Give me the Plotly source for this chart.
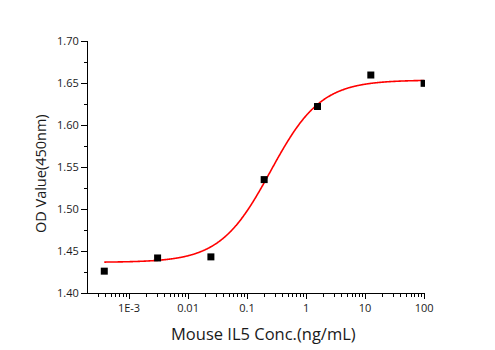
import numpy as np
import plotly.graph_objects as go

conc = [0.000381, 0.00305, 0.0244, 0.195, 1.5625, 12.5, 100]
od = [1.426, 1.4417, 1.443, 1.535, 1.622, 1.6595, 1.6496]

# 4PL fit parameters
fit_bottom = 1.4365
fit_top = 1.6535
fit_ec50 = 0.25
fit_hill = 1.02

x_tickvals = [0.001, 0.01, 0.1, 1, 10, 100]
x_ticktext = ["1E-3", "0.01", "0.1", "1", "10", "100"]
y_tickvals = [1.40, 1.45, 1.50, 1.55, 1.60, 1.65, 1.70]
x_title = "Mouse IL5 Conc.(ng/mL)"
y_title = "OD Value(450nm)"

xf = np.logspace(np.log10(conc[0]), np.log10(conc[-1]), 400)
yf = fit_bottom + (fit_top - fit_bottom) / (1 + (fit_ec50 / xf) ** fit_hill)

minor_x = [k * 10.0 ** d for d in range(-4, 3) for k in range(2, 10)]
minor_x = [v for v in minor_x if 2.0e-4 < v < 100]

fig = go.Figure()
fig.add_trace(go.Scatter(x=xf, y=yf, mode="lines", line=dict(color="#ff0000", width=1.6, shape="spline"),
                         showlegend=False, hoverinfo="skip"))
fig.add_trace(go.Scatter(x=conc, y=od, mode="markers",
                         marker=dict(symbol="square", size=7, color="black"),
                         showlegend=False))

font = "Open Sans, DejaVu Sans, sans-serif"
txt = "#1a1a1a"
fig.update_layout(
    width=495, height=350,
    margin=dict(l=88, r=70, t=41, b=57),
    paper_bgcolor="white", plot_bgcolor="white",
    font=dict(family=font, color=txt),
    annotations=[
        dict(text=x_title, xref="paper", yref="paper", x=0.522, y=-0.159,
             xanchor="center", yanchor="middle", showarrow=False,
             font=dict(size=16.5, color=txt)),
        dict(text=y_title, xref="paper", yref="paper", x=-0.1424, y=0.472,
             xanchor="center", yanchor="middle", showarrow=False, textangle=-90,
             font=dict(size=14.5, color=txt)),
    ],
)
fig.update_xaxes(
    type="log", range=[-3.695, 2.015],
    showline=True, linecolor="black", linewidth=1,
    showgrid=False, zeroline=False,
    ticks="outside", ticklen=5, tickwidth=1, tickcolor="black",
    tickmode="array", tickvals=x_tickvals, ticktext=x_ticktext,
    tickfont=dict(size=11),
    minor=dict(tickmode="array", tickvals=minor_x, ticks="outside", ticklen=3,
               tickcolor="black", tickwidth=1, showgrid=False),
)
fig.update_yaxes(
    range=[1.40, 1.70],
    showline=True, linecolor="black", linewidth=1,
    showgrid=False, zeroline=False,
    ticks="outside", ticklen=6, tickwidth=1, tickcolor="black",
    tickmode="array", tickvals=y_tickvals, tickformat=".2f",
    tickfont=dict(size=11),
    minor=dict(dtick=0.025, tick0=1.40, ticks="outside", ticklen=3,
               tickcolor="black", tickwidth=1, showgrid=False),
)

fig.write_html("out.html")
